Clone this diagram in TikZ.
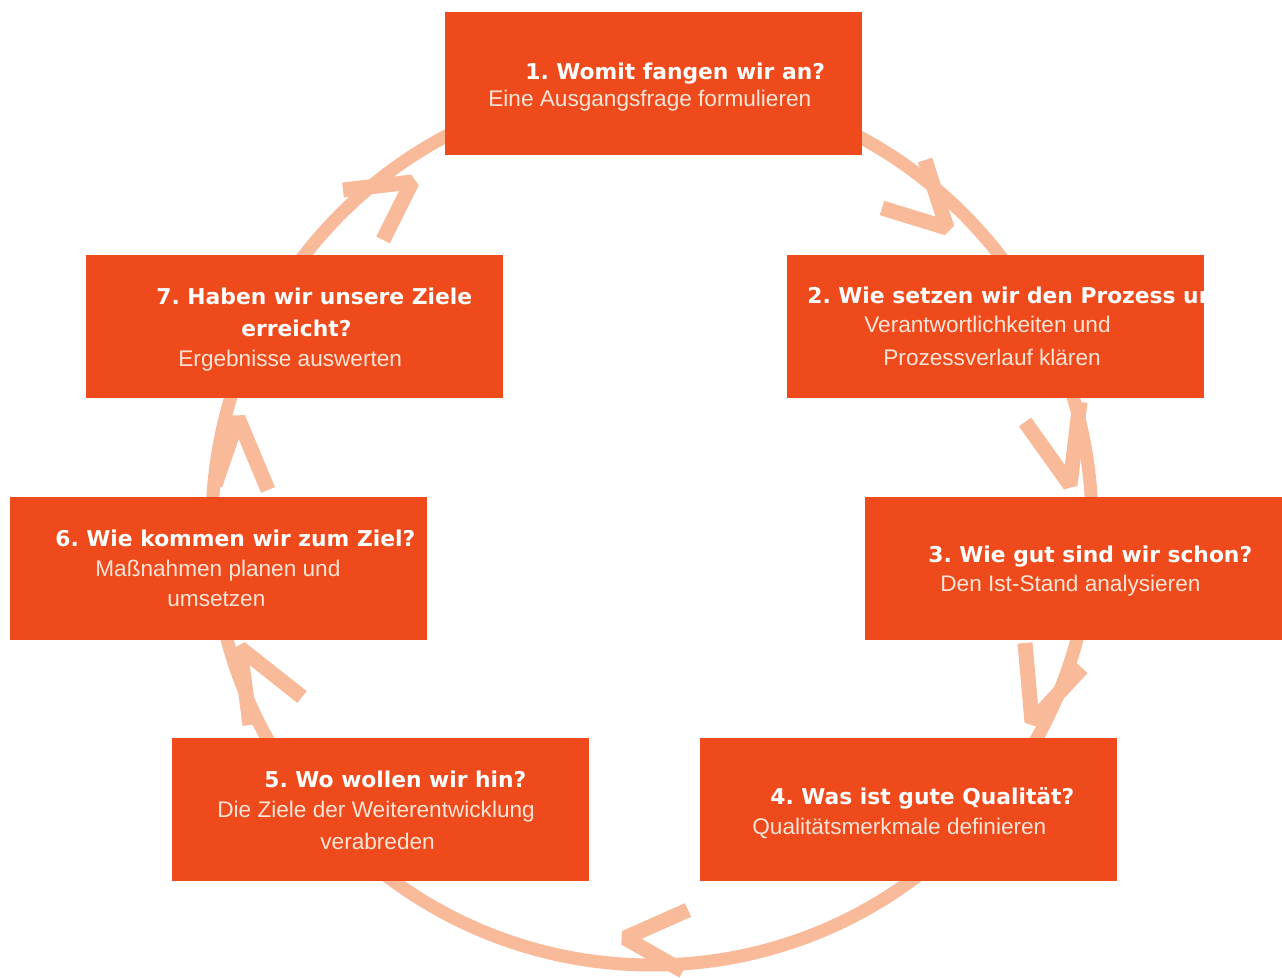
\documentclass[tikz,border=0pt]{standalone}
\usepackage{fontspec}
\setmainfont{Liberation Sans}
\newfontfamily\titlefont{DejaVu Sans}
\frenchspacing
\definecolor{boxred}{RGB}{239,74,28}
\definecolor{ringc}{RGB}{249,186,154}
\definecolor{subc}{RGB}{252,228,214}
\tikzset{
  box/.style={fill=boxred, draw=none, minimum width=208.5pt, minimum height=71.25pt, anchor=north west, inner sep=0pt},
  ttl/.style={anchor=base west, inner sep=0pt, text=white, font=\titlefont\bfseries\fontsize{10.9}{13}\selectfont},
  sub/.style={anchor=base west, inner sep=0pt, text=subc, font=\fontsize{11.3}{13}\selectfont},
  ring/.style={draw=ringc, line width=6.5pt},
  chev/.style={draw=ringc, line width=7.5pt, line cap=butt, line join=bevel},
}
\begin{document}
\begin{tikzpicture}[x=0.5pt,y=-0.5pt]
\useasboundingbox (0,0) rectangle (1282,978);
\fill[white] (0,0) rectangle (1282,978);
% ring
\draw[ring] (652,525) circle[radius=220pt];
% chevrons
\draw[chev] (925,160) -- (947,228) -- (882,208);
\draw[chev] (1025,422) -- (1070,485) -- (1080,402);
\draw[chev] (1025,643) -- (1032,722) -- (1082,668);
\draw[chev] (688,910) -- (625,938) -- (683,971);
\draw[chev] (250,725) -- (240,648) -- (302,697);
\draw[chev] (268,490) -- (238,418) -- (215,485);
\draw[chev] (343,190) -- (412,182) -- (383,240);
% boxes
\node[box] (b1) at (445,12) {};
\node[box] (b2) at (787,255) {};
\node[box] (b3) at (865,497) {};
\node[box] (b4) at (700,738) {};
\node[box] (b5) at (172,738) {};
\node[box] (b6) at (10,497) {};
\node[box] (b7) at (86,255) {};
% texts
\node[ttl] (t1a) at (525,80) {1. Womit fangen wir an?};
\node[sub] (t1b) at (488,107) {Eine Ausgangsfrage formulieren};
\begin{scope}
\clip (787,255) rectangle (1205,397);
\node[ttl] (t2a) at (807,304) {2. Wie setzen wir den Prozess um?};
\end{scope}
\node[sub] (t2b) at (864,333) {Verantwortlichkeiten und};
\node[sub] (t2c) at (883,366) {Prozessverlauf klären};
\node[ttl] (t3a) at (928,563) {3. Wie gut sind wir schon?};
\node[sub] (t3b) at (940,592) {Den Ist-Stand analysieren};
\node[ttl] (t4a) at (770,805) {4. Was ist gute Qualität?};
\node[sub] (t4b) at (752,835) {Qualitätsmerkmale definieren};
\node[ttl] (t5a) at (264,788) {5. Wo wollen wir hin?};
\node[sub] (t5b) at (217,818) {Die Ziele der Weiterentwicklung};
\node[sub] (t5c) at (320,850) {verabreden};
\node[ttl] (t6a) at (55,547) {6. Wie kommen wir zum Ziel?};
\node[sub] (t6b) at (95,577) {Maßnahmen planen und};
\node[sub] (t6c) at (167,607) {umsetzen};
\node[ttl] (t7a) at (156,305) {7. Haben wir unsere Ziele};
\node[ttl] (t7b) at (241,337) {erreicht?};
\node[sub] (t7c) at (178,367) {Ergebnisse auswerten};
\end{tikzpicture}
\end{document}
